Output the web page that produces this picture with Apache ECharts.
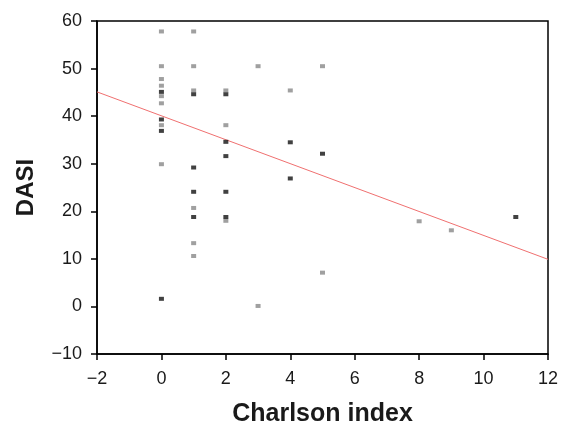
<!DOCTYPE html>
<html><head><meta charset="utf-8">
<script src="https://cdn.jsdelivr.net/npm/echarts@6/dist/echarts.min.js"></script>
<style>html,body{margin:0;padding:0;background:#fff}#c{width:564px;height:425px}</style>
</head><body><div id="c"></div>
<script>
// Charlson index vs DASI
const grayPoints = [
  [0,57.8],[0,50.5],[0,47.8],[0,46.4],[0,44.2],[0,42.7],[0,38.1],[0,29.9],
  [1,57.8],[1,50.5],[1,45.4],[1,20.7],[1,13.3],[1,10.6],
  [2,45.4],[2,38.1],[2,18.0],
  [3,50.5],[3,0.1],
  [4,45.4],
  [5,50.5],[5,7.1],
  [8,17.9],[9,16.0]
];
const blackPoints = [
  [0,45.1],[0,39.3],[0,36.9],[0,1.6],
  [1,44.6],[1,29.2],[1,24.1],[1,18.8],
  [2,44.6],[2,34.6],[2,31.6],[2,24.1],[2,18.8],
  [4,34.5],[4,26.9],
  [5,32.1],
  [11,18.8]
];
const fitLine = [[-2,45.1],[12,9.9]];
const xTicks = {min:-2,max:12,interval:2};
const yTicks = {min:-10,max:60,interval:10};

const fmt = v => String(v).replace('-', '\u2212');
const chart = echarts.init(document.getElementById('c'), null, {renderer:'canvas'});
const font = 'Liberation Sans, Arial, sans-serif';
const axisCommon = {
  axisLine:{show:true,onZero:false,lineStyle:{color:'#000',width:1.5}},
  axisTick:{show:true,length:6,inside:false,lineStyle:{color:'#000',width:1.5}},
  splitLine:{show:false}
};
chart.setOption({
  animation:false,
  backgroundColor:'#fff',
  grid:{left:97,right:16,top:21,bottom:71,show:true,borderColor:'#000',borderWidth:1.5,
    containLabel:false,outerBoundsMode:'none'},
  xAxis:Object.assign({type:'value',min:xTicks.min,max:xTicks.max,interval:xTicks.interval,
    name:'Charlson index',nameLocation:'middle',nameGap:48,
    nameTextStyle:{color:'#1a1a1a',fontSize:25,fontWeight:'bold',fontFamily:font}},axisCommon,
    {axisLabel:{color:'#1a1a1a',fontSize:18,fontFamily:font,formatter:fmt,margin:16}}),
  yAxis:Object.assign({type:'value',min:yTicks.min,max:yTicks.max,interval:yTicks.interval,
    name:'DASI',nameLocation:'middle',nameGap:59,
    nameTextStyle:{color:'#1a1a1a',fontSize:24,fontWeight:'bold',fontFamily:font}},axisCommon,
    {axisLabel:{color:'#1a1a1a',fontSize:18,fontFamily:font,formatter:fmt,margin:15}}),
  series:[
    {type:'line',data:fitLine,symbol:'none',lineStyle:{color:'#f07070',width:1},z:1},
    {type:'scatter',data:grayPoints,symbol:'rect',symbolSize:[5,4],itemStyle:{color:'#888'},z:2},
    {type:'scatter',data:blackPoints,symbol:'rect',symbolSize:[5,4],itemStyle:{color:'#111'},z:3}
  ]
});
</script></body></html>
